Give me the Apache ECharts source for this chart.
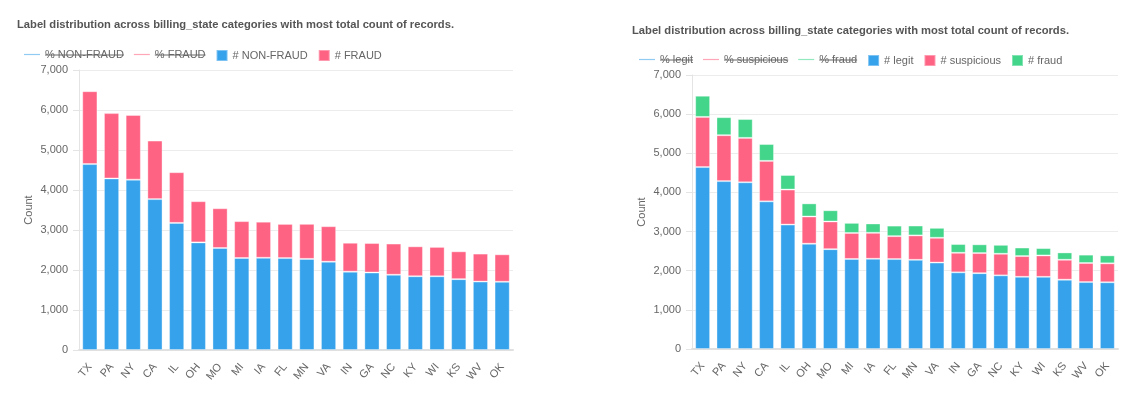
<!DOCTYPE html>
<html>
<head>
<meta charset="utf-8">
<script src="https://cdn.jsdelivr.net/npm/echarts@6/dist/echarts.min.js"></script>
<style>
html,body{margin:0;padding:0;background:#fff;}
#c{width:1127px;height:395px;}
</style>
</head>
<body>
<div id="c"></div>
<script>
// ---- data ----
const states = ['TX','PA','NY','CA','IL','OH','MO','MI','IA','FL','MN','VA','IN','GA','NC','KY','WI','KS','WV','OK'];
// left chart
const nonFraud = [4648,4289,4259,3772,3178,2690,2550,2300,2305,2298,2278,2208,1958,1937,1881,1844,1843,1771,1710,1705];
const fraudAll = [1822,1633,1616,1464,1267,1030,994,922,902,854,876,887,723,737,780,748,734,696,700,687];
// right chart
const legit = [4648,4289,4259,3772,3178,2690,2550,2300,2305,2298,2278,2208,1958,1937,1881,1844,1843,1771,1710,1705];
const suspicious = [1281,1173,1134,1034,896,695,708,664,663,585,624,633,500,514,552,530,547,509,487,484];
const fraud = [541,460,482,430,371,335,286,258,239,269,252,254,223,223,228,218,187,187,213,203];
const yTicks = [0,1000,2000,3000,4000,5000,6000,7000];

const titleText = 'Label distribution across billing_state categories with most total count of records.';
const leftLines = ['% NON-FRAUD','% FRAUD'];
const leftBars = ['# NON-FRAUD','# FRAUD'];
const rightLines = ['% legit','% suspicious','% fraud'];
const rightBars = ['# legit','# suspicious','# fraud'];

const FONT = "Helvetica, Arial, 'Liberation Sans', sans-serif";
const BLUE = '#36a2eb', PINK = '#ff6384', GREEN = '#43d58a';
const LBLUE = '#8fcbf3', LPINK = '#ffa6b9', LGREEN = '#93e8bd';
const sq = 'path://M0,0L10,0L10,10L0,10Z';
const ln = 'path://M0,0L16,0L16,1.2L0,1.2Z';

const chart = echarts.init(document.getElementById('c'), null, {renderer:'canvas'});

const cv = document.createElement('canvas').getContext('2d');
cv.font = '11px ' + FONT;
const tw = s => cv.measureText(s).width;

function yAxis(gi){
  return {
    type:'value', gridIndex:gi, min:yTicks[0], max:yTicks[yTicks.length-1], interval:1000,
    name:'Count', nameLocation:'middle', nameRotate:90, nameGap:45,
    nameTextStyle:{color:'#666', fontSize:11, fontFamily:FONT},
    axisLine:{show:true, lineStyle:{color:'#e4e4e4'}},
    axisTick:{show:true, length:6, lineStyle:{color:'#e4e4e4'}},
    axisLabel:{color:'#666', fontSize:11, fontFamily:FONT, margin:11,
      formatter:v=>v.toLocaleString('en-US')},
    splitLine:{lineStyle:{color:'#ececec'}}
  };
}
function xAxis(gi){
  return {
    type:'category', gridIndex:gi, data:states,
    axisLine:{lineStyle:{color:'#e0e0e0', width:2}},
    axisTick:{show:false},
    axisLabel:{rotate:50, color:'#666', fontSize:11, fontFamily:FONT, margin:15, interval:0}
  };
}
function lineSeries(name, color, gi){
  return {name, type:'line', xAxisIndex:gi, yAxisIndex:gi, data:[], symbol:'none',
    lineStyle:{color, width:1.2}, itemStyle:{color}};
}
function barSeries(name, color, gi, data){
  return {name, type:'bar', xAxisIndex:gi, yAxisIndex:gi, stack:'s'+gi, data,
    barWidth:'70%', itemStyle:{color, borderColor:'rgba(255,255,255,0.35)', borderWidth:1}};
}

// legend layout: line items (16px icon) then square items (11px icon)
function legendPair(lines, bars, left, top){
  const legends = [], graphics = [];
  let x = left;
  const lineStart = x;
  lines.forEach(n=>{
    const tx = x + 16 + 5, w = tw(n);
    graphics.push({type:'line', z:100, silent:true,
      shape:{x1:tx, y1:top+6, x2:tx+w, y2:top+6}, style:{stroke:'#666', lineWidth:1}});
    x = tx + w + 10;
  });
  const barStart = x;
  const common = {itemHeight:11, itemGap:10, padding:0, top, selectedMode:false,
    textStyle:{color:'#666', fontSize:11, fontFamily:FONT}};
  legends.push(Object.assign({left:lineStart, itemWidth:16, data:lines.map(n=>({name:n, icon:ln}))}, common));
  legends.push(Object.assign({left:barStart, itemWidth:11, data:bars.map(n=>({name:n, icon:sq}))}, common));
  return {legends, graphics};
}
const LL = legendPair(leftLines, leftBars, 24, 49);
const RL = legendPair(rightLines, rightBars, 639, 54);

const option = {
  animation:false,
  title:[
    {text:titleText, left:17, top:19, padding:0, textStyle:{fontSize:11.2, fontWeight:'bold', color:'#555', fontFamily:FONT}},
    {text:titleText, left:632, top:25, padding:0, textStyle:{fontSize:11.2, fontWeight:'bold', color:'#555', fontFamily:FONT}}
  ],
  legend:[].concat(LL.legends, RL.legends),
  graphic:[].concat(LL.graphics, RL.graphics),
  grid:[
    {left:79, right:614, top:70, bottom:45, containLabel:false},
    {left:692, right:9, top:75, bottom:46, containLabel:false}
  ],
  xAxis:[xAxis(0), xAxis(1)],
  yAxis:[yAxis(0), yAxis(1)],
  series:[
    lineSeries(leftLines[0], LBLUE, 0),
    lineSeries(leftLines[1], LPINK, 0),
    barSeries(leftBars[0], BLUE, 0, nonFraud),
    barSeries(leftBars[1], PINK, 0, fraudAll),
    lineSeries(rightLines[0], LBLUE, 1),
    lineSeries(rightLines[1], LPINK, 1),
    lineSeries(rightLines[2], LGREEN, 1),
    barSeries(rightBars[0], BLUE, 1, legit),
    barSeries(rightBars[1], PINK, 1, suspicious),
    barSeries(rightBars[2], GREEN, 1, fraud)
  ]
};
chart.setOption(option);
</script>
</body>
</html>
